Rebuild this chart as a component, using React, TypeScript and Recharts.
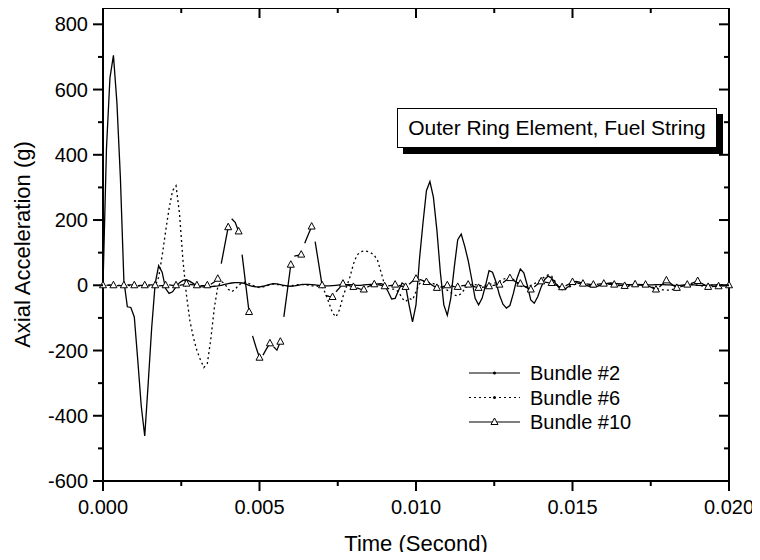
import { LineChart, Line, XAxis, YAxis, ReferenceArea } from 'recharts'

const FONT = '"Liberation Sans", Arial, Helvetica, sans-serif'
const W = 760
const H = 560
const PLOT = { left: 103, right: 729, top: 8, bottom: 481 }

// recorder sampling: 9 samples per ms, a symbol on every 3rd sample of bundle #10
const SAMPLE_DT = 1 / 9000
const MARK_EVERY = 3

const X_TICKS = [0, 0.0025, 0.005, 0.0075, 0.01, 0.0125, 0.015, 0.0175, 0.02]
const Y_TICKS = [-600, -500, -400, -300, -200, -100, 0, 100, 200, 300, 400, 500, 600, 700, 800]

// Bundle #2 (g), one value per sample
const BUNDLE_2 = [
  0, 420, 636, 705, 560, 330, 15, -66, -68, -97,
  -230, -370, -462, -300, -130, 5, 60, 40, -10, -25,
  -20, -5, 8, 15, 17, 12, 5, -2, -4, -5,
  -5, -4, -3, -2, 0, 3, 5, 7, 8, 8,
  7, 4, 0, -3, -5, -5, -3, 0, 3, 5,
  4, 2, 0, -2, -3, -2, 0, 2, 3, 3,
  2, 1, 0, -1, -2, -2, -1, 0, 1, 2,
  2, 2, 1, 0, 0, 1, 2, 3, 3, 4,
  5, 0, -20, -42, -40, -15, 7, 0, -60, -112,
  -60, 80, 190, 290, 318, 270, 170, 40, -60, -92,
  -40, 55, 140, 157, 120, 76, 20, -40, -60, -40,
  0, 45, 40, 10, -30, -58, -70, -62, -25, 20,
  50, 38, 0, -45, -55, -35, -5, 18, 28, 22,
  8, -6, -14, -10, -3, 8, 12, 10, 5, 0,
  -4, -5, -3, 0, 4, 6, 7, 6, 5, 4,
  3, 2, 2, 1, 1, 0, 0, 1, 1, 2,
  2, 2, 1, 1, 0, 0, 0, 1, 1, 1,
  1, 0, 0, 0, 0, 1, 1, 0, 0, 0,
  0,
]

// Bundle #6 (g)
const BUNDLE_6 = [
  0, 0, 0, 0, 0, 0, 0, 0, -1, -1,
  -2, -2, -2, -2, -2, -3, 25, 90, 165, 235,
  290, 305, 220, 75, -30, -110, -160, -200, -228, -252,
  -240, -165, -70, -5, 12, 5, -12, -20, -12, 0,
  8, 10, 5, 0, -5, -7, -5, -2, 2, 4,
  3, 0, -2, -3, -2, 0, 2, 3, 2, 0,
  -2, -2, -3, -5, -25, -55, -85, -97, -75, -35,
  -5, 25, 65, 92, 102, 105, 104, 100, 92, 75,
  38, 0, -10, -12, -12, -20, -40, -50, -40, -45,
  -20, 5, 12, 10, 8, 5, 0, -5, -10, -15,
  -22, -30, -33, -25, -12, 0, 3, 2, 0, -2,
  0, 2, 5, 8, 12, 18, 22, 24, 18, 8,
  -2, -6, -4, 0, 5, 10, 18, 26, 32, 28,
  12, -5, -12, -12, -6, 0, 4, 6, 5, 2,
  0, -2, -2, 0, 2, 4, 5, 3, 0, -3,
  -4, -3, -1, 0, 1, 2, 0, -3, -6, -10,
  -12, -14, -15, -15, -12, -8, -4, 0, 2, 3,
  2, 0, -2, -3, -2, 0, 1, 2, 1, 0,
  0,
]

// Bundle #10 (g)
const BUNDLE_10 = [
  0, 0, 1, 0, -1, -1, 0, 1, 1, 0,
  -1, 0, 0, 1, 1, 0, -2, -1, 0, 1,
  0, 0, 0, 2, 5, 3, 1, 0, -1, -1,
  0, 3, 10, 20, 66, 122, 178, 204, 193, 165,
  94, 6, -82, -155, -190, -222, -214, -195, -178, -188,
  -199, -173, -97, -17, 63, 89, 92, 94, 129, 155,
  180, 134, 67, 0, -31, -34, -36, -20, -8, 5,
  2, -2, -5, -8, -12, -13, -6, 0, 3, 2,
  0, -3, -2, 0, 2, 0, -3, -5, 3, 12,
  20, 18, 14, 10, 5, -2, -8, -6, -3, 0,
  -2, -4, -5, -2, 0, 2, -1, -5, -8, -6,
  -5, -3, -1, 1, 2, 8, 16, 22, 15, 9,
  5, -2, -8, -13, -5, 4, 12, 10, 8, 7,
  2, -3, -6, -2, 4, 10, 8, 6, 5, 4,
  3, 2, 3, 4, 5, 4, 3, 2, 1, 0,
  -2, 0, 2, 3, 3, 2, 2, -3, -8, -13,
  -5, 5, 15, 8, -1, -8, -5, -1, 2, 5,
  9, 13, 7, 1, -5, -4, -3, -3, -2, -1,
  0,
]

const SERIES = [
  { key: 'b2', name: 'Bundle #2', dash: undefined, marker: 'dot' },
  { key: 'b6', name: 'Bundle #6', dash: '2 3', marker: 'dot' },
  { key: 'b10', name: 'Bundle #10', dash: undefined, marker: 'tri' },
]

// one row per sample; bundle #10's line is broken right after each symbol
const rows: any[] = []
BUNDLE_2.forEach((_, i) => {
  const mark = i % MARK_EVERY === 0
  rows.push({ t: i * SAMPLE_DT, b2: BUNDLE_2[i], b6: BUNDLE_6[i], b10: BUNDLE_10[i], mark })
  if (mark && i < BUNDLE_2.length - 1) rows.push({ t: (i + 0.5) * SAMPLE_DT, b10: null })
})

const triPath = (cx: number, cy: number) =>
  `M${cx},${cy - 4}L${cx + 3.5},${cy + 2.5}L${cx - 3.5},${cy + 2.5}Z`

const triDot = (p: any) => {
  const { cx, cy, payload, index } = p
  if (!payload || !payload.mark || cy == null || payload.b10 == null) return <g key={`d${index}`} />
  return <path key={`d${index}`} d={triPath(cx, cy)} fill="#fff" stroke="#000" strokeWidth={1} />
}

const LeftTick = (p: any) => {
  const { y, payload } = p
  const major = Math.round(payload.value / 100) % 2 === 0
  const len = major ? 10 : 5
  return (
    <g>
      <line x1={PLOT.left - len} x2={PLOT.left} y1={y} y2={y} stroke="#000" strokeWidth={2} />
      <line x1={PLOT.right - len} x2={PLOT.right} y1={y} y2={y} stroke="#000" strokeWidth={2} />
      {major && (
        <text x={PLOT.left - 15} y={y} dy="0.35em" textAnchor="end" fontSize={20} fill="#000" fontFamily={FONT}>
          {payload.value}
        </text>
      )}
    </g>
  )
}

const BottomTick = (p: any) => {
  const { x, payload } = p
  const major = Math.round(payload.value / 0.0025) % 2 === 0
  const len = major ? 10 : 5
  return (
    <g>
      <line x1={x} x2={x} y1={PLOT.bottom} y2={PLOT.bottom + len} stroke="#000" strokeWidth={2} />
      <line x1={x} x2={x} y1={PLOT.top} y2={PLOT.top + len} stroke="#000" strokeWidth={2} />
      {major && (
        <text x={x} y={PLOT.bottom + 26} dy="0.35em" textAnchor="middle" fontSize={20} fill="#000" fontFamily={FONT}>
          {payload.value.toFixed(3)}
        </text>
      )}
    </g>
  )
}

function LegendRows() {
  return (
    <svg width={W} height={H} style={{ position: 'absolute', left: 0, top: 0, pointerEvents: 'none' }}>
      {SERIES.map((s, i) => {
        const y = 373 + i * 24.5
        return (
          <g key={s.key}>
            <line x1={469} x2={520} y1={y} y2={y} stroke="#000" strokeWidth={1.2} strokeDasharray={s.dash} />
            {s.marker === 'tri'
              ? <path d={triPath(494.5, y)} fill="#fff" stroke="#000" strokeWidth={1} />
              : <circle cx={494.5} cy={y} r={1.5} fill="#000" />}
            <text x={530} y={y} dy="0.35em" fontSize={20} fill="#000" fontFamily={FONT}>{s.name}</text>
          </g>
        )
      })}
    </svg>
  )
}

export default function App() {
  return (
    <div style={{ position: 'relative', width: W, height: H, margin: -8, background: '#fff', fontFamily: FONT }}>
      <LineChart width={W} height={H} data={rows} margin={{ top: PLOT.top, right: W - PLOT.right, left: 0, bottom: 0 }}>
        <XAxis
          dataKey="t" type="number" domain={[0, 0.02]} ticks={X_TICKS} interval={0}
          tick={BottomTick} tickLine={false} axisLine={false} height={H - PLOT.bottom}
          label={{ value: 'Time (Second)', position: 'insideBottom', offset: 9, fontSize: 22, fill: '#000', fontFamily: FONT }}
        />
        <YAxis
          type="number" domain={[-600, 850]} ticks={Y_TICKS} interval={0} allowDataOverflow
          tick={LeftTick} tickLine={false} axisLine={false} width={PLOT.left}
          label={{ value: 'Axial Acceleration (g)', angle: -90, position: 'insideLeft', offset: 22, fontSize: 22, fill: '#000', fontFamily: FONT, style: { textAnchor: 'middle' } }}
        />
        <ReferenceArea x1={0} x2={0.02} y1={-600} y2={850} fill="none" stroke="#000" strokeWidth={2} />
        <Line dataKey="b2" name="Bundle #2" type="linear" stroke="#000" strokeWidth={1.3} dot={false} connectNulls isAnimationActive={false} />
        <Line dataKey="b6" name="Bundle #6" type="linear" stroke="#000" strokeWidth={1.3} strokeDasharray="2 3" dot={false} connectNulls isAnimationActive={false} />
        <Line dataKey="b10" name="Bundle #10" type="linear" stroke="#000" strokeWidth={1.3} dot={triDot} connectNulls={false} isAnimationActive={false} />
      </LineChart>
      <div
        style={{
          position: 'absolute', left: 397, top: 108, width: 320, height: 40, boxSizing: 'border-box',
          border: '1.5px solid #000', boxShadow: '6px 6px 0 #000', background: '#fff',
          display: 'flex', alignItems: 'center', justifyContent: 'center', fontSize: 21, color: '#000',
        }}
      >
        Outer Ring Element, Fuel String
      </div>
      <LegendRows />
    </div>
  )
}
